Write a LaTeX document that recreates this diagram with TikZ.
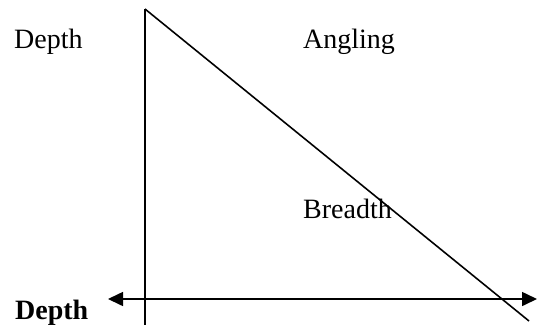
\documentclass[tikz,border=0pt]{standalone}
\usepackage{fontspec}
\setmainfont{Liberation Serif}
\usetikzlibrary{arrows.meta}
\tikzset{
  lbl/.style={anchor=base west, inner sep=0pt, font=\fontsize{28}{32}\selectfont},
  edge/.style={line width=1.6pt},
}
\begin{document}
\begin{tikzpicture}[x=1pt, y=-1pt]
  \useasboundingbox (0,0) rectangle (537,327);
  % 三角形の頂点
  \coordinate (top) at (145,9);
  \coordinate (bot) at (145,325);
  \coordinate (foot) at (529,321);
  \draw[edge] (top) -- (bot);                      % 縦線
  \draw[edge] (top) -- (foot);                     % 斜辺
  % 両矢印
  \coordinate (aL) at (108,299);
  \coordinate (aR) at (537,299);
  \draw[edge, {Triangle[length=15pt,width=14pt]}-{Triangle[length=15pt,width=14pt]}] (aL) -- (aR);
  % ラベル
  \node[lbl] (depthA) at (14,48) {Depth};
  \node[lbl] (angling) at (303,48) {Angling};
  \node[lbl] (breadth) at (303,218) {Breadth};
  \node[lbl, font=\fontsize{28}{32}\selectfont\bfseries] (depthB) at (15,319) {Depth};
\end{tikzpicture}
\end{document}
